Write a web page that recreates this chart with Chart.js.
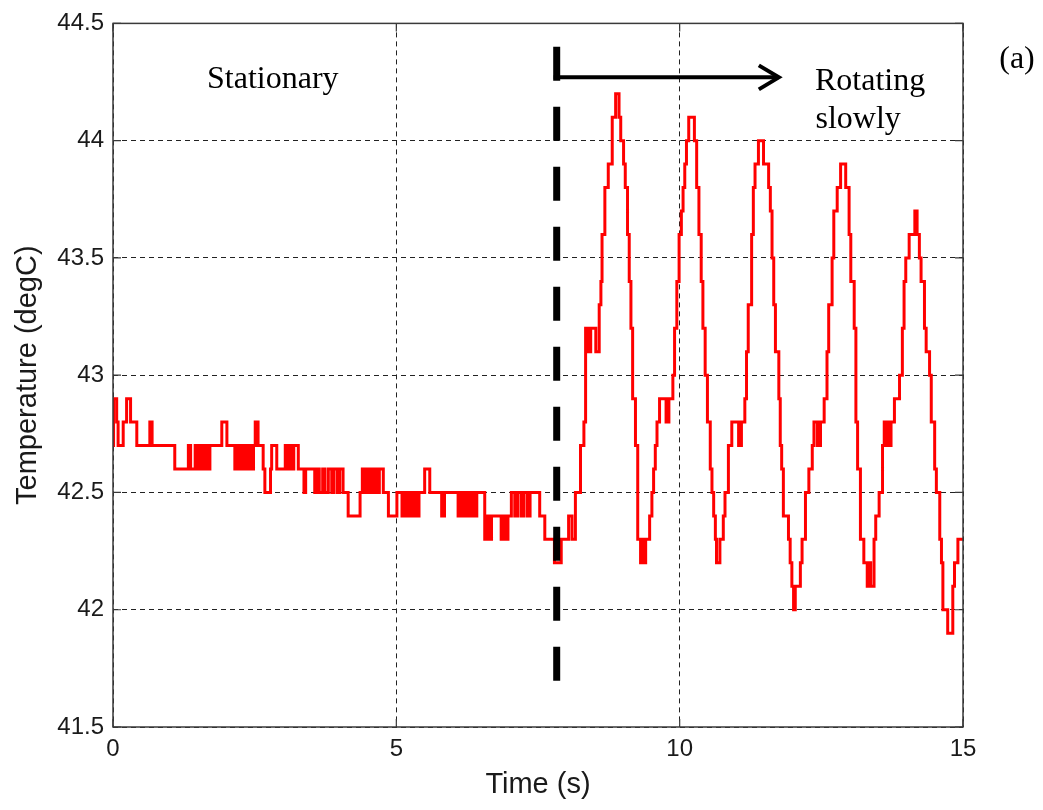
<!DOCTYPE html>
<html>
<head>
<meta charset="utf-8">
<script src="https://cdn.jsdelivr.net/npm/chart.js@4/dist/chart.umd.min.js"></script>
<style>
  html, body { margin: 0; padding: 0; background: #fff; }
  #wrap { width: 1043px; height: 810px; }
</style>
</head>
<body>
<div id="wrap"><canvas id="chart" width="1043" height="810"></canvas></div>
<script>
// sensor trace, one entry per step change (time in s, temperature in degC)
const times = [
  0, 0.01, 0.065, 0.09, 0.18, 0.24, 0.31, 0.42, 0.65, 0.69,
  1.09, 1.33, 1.37, 1.45, 1.5, 1.54, 1.57, 1.62, 1.66, 1.71,
  1.92, 2.01, 2.15, 2.18, 2.22, 2.26, 2.29, 2.33, 2.37, 2.41,
  2.44, 2.48, 2.51, 2.56, 2.65, 2.68, 2.78, 2.8, 2.89, 3.04,
  3.08, 3.11, 3.16, 3.19, 3.27, 3.37, 3.4, 3.56, 3.6, 3.64,
  3.7, 3.74, 3.8, 3.86, 3.9, 3.96, 4.0, 4.06, 4.15, 4.36,
  4.4, 4.45, 4.5, 4.55, 4.6, 4.65, 4.7, 4.77, 4.86, 5.01,
  5.1, 5.13, 5.18, 5.22, 5.27, 5.31, 5.36, 5.4, 5.5, 5.59,
  5.8, 5.85, 6.09, 6.13, 6.18, 6.22, 6.27, 6.32, 6.37, 6.42,
  6.56, 6.6, 6.63, 6.68, 6.85, 6.9, 6.93, 6.97, 7.03, 7.09,
  7.14, 7.2, 7.25, 7.31, 7.36, 7.53, 7.62, 7.79, 7.91, 8.04,
  8.1, 8.16, 8.25, 8.31, 8.34, 8.37, 8.39, 8.41, 8.43, 8.52,
  8.58, 8.61, 8.63, 8.68, 8.74, 8.81, 8.87, 8.93, 8.96, 9.01,
  9.04, 9.08, 9.11, 9.14, 9.17, 9.22, 9.26, 9.31, 9.34, 9.36,
  9.4, 9.47, 9.51, 9.54, 9.57, 9.6, 9.645, 9.76, 9.81, 9.88,
  9.91, 9.95, 9.99, 10.03, 10.06, 10.09, 10.12, 10.16, 10.26, 10.3,
  10.34, 10.38, 10.41, 10.45, 10.49, 10.54, 10.57, 10.6, 10.63, 10.65,
  10.71, 10.77, 10.8, 10.86, 10.92, 11.04, 11.09, 11.15, 11.18, 11.21,
  11.27, 11.3, 11.33, 11.39, 11.48, 11.57, 11.6, 11.63, 11.66, 11.69,
  11.75, 11.775, 11.8, 11.83, 11.92, 11.95, 11.98, 12.01, 12.04, 12.13,
  12.16, 12.22, 12.28, 12.34, 12.37, 12.43, 12.44, 12.47, 12.485, 12.55,
  12.6, 12.63, 12.69, 12.72, 12.78, 12.84, 12.93, 12.99, 13.02, 13.08,
  13.11, 13.14, 13.19, 13.25, 13.31, 13.34, 13.37, 13.43, 13.46, 13.52,
  13.58, 13.61, 13.64, 13.67, 13.7, 13.73, 13.79, 13.88, 13.93, 13.96,
  13.99, 14.05, 14.15, 14.19, 14.23, 14.26, 14.32, 14.35, 14.41, 14.44,
  14.5, 14.53, 14.59, 14.62, 14.645, 14.73, 14.82, 14.85, 14.91, 15
];
const temps = [
  42.7, 42.9, 42.8, 42.7, 42.8, 42.9, 42.8, 42.7, 42.8, 42.7,
  42.6, 42.7, 42.6, 42.7, 42.6, 42.7, 42.6, 42.7, 42.6, 42.7,
  42.8, 42.7, 42.6, 42.7, 42.6, 42.7, 42.6, 42.7, 42.6, 42.7,
  42.6, 42.7, 42.8, 42.7, 42.6, 42.5, 42.6, 42.7, 42.6, 42.7,
  42.6, 42.7, 42.6, 42.7, 42.6, 42.5, 42.6, 42.5, 42.6, 42.5,
  42.6, 42.5, 42.6, 42.5, 42.6, 42.5, 42.6, 42.5, 42.4, 42.5,
  42.6, 42.5, 42.6, 42.5, 42.6, 42.5, 42.6, 42.5, 42.4, 42.5,
  42.4, 42.5, 42.4, 42.5, 42.4, 42.5, 42.4, 42.5, 42.6, 42.5,
  42.4, 42.5, 42.4, 42.5, 42.4, 42.5, 42.4, 42.5, 42.4, 42.5,
  42.3, 42.4, 42.3, 42.4, 42.3, 42.4, 42.3, 42.4, 42.5, 42.4,
  42.5, 42.4, 42.5, 42.4, 42.5, 42.4, 42.3, 42.2, 42.3, 42.4,
  42.3, 42.5, 42.7, 42.8, 43.2, 43.1, 43.2, 43.1, 43.2, 43.1,
  43.3, 43.4, 43.6, 43.8, 43.9, 44.1, 44.2, 44.1, 44.0, 43.9,
  43.8, 43.6, 43.4, 43.2, 42.9, 42.7, 42.3, 42.2, 42.3, 42.2,
  42.3, 42.4, 42.5, 42.6, 42.7, 42.8, 42.9, 42.8, 42.9, 43.0,
  43.2, 43.4, 43.6, 43.7, 43.8, 43.9, 44.0, 44.1, 44.0, 43.8,
  43.6, 43.4, 43.2, 43.0, 42.8, 42.6, 42.5, 42.4, 42.3, 42.2,
  42.3, 42.4, 42.5, 42.7, 42.8, 42.7, 42.8, 42.9, 43.1, 43.3,
  43.6, 43.8, 43.9, 44.0, 43.9, 43.8, 43.7, 43.5, 43.3, 43.1,
  42.9, 42.7, 42.6, 42.4, 42.3, 42.2, 42.1, 42.0, 42.1, 42.2,
  42.3, 42.5, 42.6, 42.7, 42.8, 42.7, 42.8, 42.7, 42.8, 42.9,
  43.1, 43.3, 43.5, 43.7, 43.8, 43.9, 43.8, 43.6, 43.4, 43.2,
  42.8, 42.6, 42.3, 42.2, 42.1, 42.2, 42.1, 42.3, 42.4, 42.5,
  42.7, 42.8, 42.7, 42.8, 42.7, 42.8, 42.9, 43.0, 43.2, 43.4,
  43.5, 43.6, 43.7, 43.6, 43.5, 43.4, 43.2, 43.1, 43.0, 42.8,
  42.6, 42.5, 42.3, 42.2, 42.0, 41.9, 42.1, 42.2, 42.3, 42.3
];

const xTicks = [0, 5, 10, 15];
const xTickLabels = ["0", "5", "10", "15"];
const yTicks = [41.5, 42, 42.5, 43, 43.5, 44, 44.5];
const yTickLabels = ["41.5", "42", "42.5", "43", "43.5", "44", "44.5"];

// annotation positions in data units
const switchTime = 7.83;     // dashed marker where rotation starts
const markerTop = 44.4;
const markerBottom = 41.68;
const arrowLevel = 44.27;
const arrowEnd = 11.75;

const tickFont = { family: "'Liberation Sans', Arial, sans-serif", size: 24 };
const titleFont = { family: "'Liberation Sans', Arial, sans-serif", size: 29 };
const serif = "'Liberation Serif', 'Times New Roman', serif";

const annotations = {
  id: "annotations",
  afterDatasetsDraw(chart) {
    const { ctx, chartArea: a, scales: { x, y } } = chart;
    ctx.save();

    // plot box
    ctx.strokeStyle = "#3a3a3a";
    ctx.lineWidth = 1.5;
    ctx.setLineDash([]);
    ctx.strokeRect(a.left, a.top, a.right - a.left, a.bottom - a.top);

    // inward tick marks (matlab style)
    ctx.lineWidth = 1.2;
    yTicks.forEach((v) => {
      const py = y.getPixelForValue(v);
      ctx.beginPath();
      ctx.moveTo(a.left, py); ctx.lineTo(a.left + 8, py);
      ctx.moveTo(a.right, py); ctx.lineTo(a.right - 8, py);
      ctx.stroke();
    });
    xTicks.forEach((v) => {
      const px = x.getPixelForValue(v);
      ctx.beginPath();
      ctx.moveTo(px, a.bottom); ctx.lineTo(px, a.bottom - 8);
      ctx.moveTo(px, a.top); ctx.lineTo(px, a.top + 8);
      ctx.stroke();
    });

    // thick dashed marker
    const sx = x.getPixelForValue(switchTime);
    const ay = y.getPixelForValue(arrowLevel);
    ctx.strokeStyle = "#000";
    ctx.lineWidth = 7;
    ctx.setLineDash([34, 26]);
    ctx.beginPath();
    ctx.moveTo(sx, y.getPixelForValue(markerTop));
    ctx.lineTo(sx, y.getPixelForValue(markerBottom));
    ctx.stroke();

    // arrow
    const ex = x.getPixelForValue(arrowEnd);
    ctx.setLineDash([]);
    ctx.lineWidth = 4;
    ctx.beginPath();
    ctx.moveTo(sx - 3, ay);
    ctx.lineTo(ex, ay);
    ctx.stroke();
    ctx.lineJoin = "miter";
    ctx.beginPath();
    ctx.moveTo(ex - 20, ay - 12);
    ctx.lineTo(ex, ay);
    ctx.lineTo(ex - 20, ay + 12);
    ctx.stroke();

    // labels
    ctx.fillStyle = "#000";
    ctx.font = "32px " + serif;
    ctx.textAlign = "center";
    ctx.textBaseline = "middle";
    ctx.fillText("Stationary", x.getPixelForValue(2.82), y.getPixelForValue(44.26));
    ctx.fillText("Rotating", x.getPixelForValue(13.36), y.getPixelForValue(44.25));
    ctx.fillText("slowly", x.getPixelForValue(13.15), y.getPixelForValue(44.09));
    ctx.fillText("(a)", a.right + 54, a.top + 36);
    ctx.restore();
  }
};

new Chart(document.getElementById("chart"), {
  type: "line",
  data: {
    datasets: [
      {
        label: "Temperature",
        data: times.map((t, i) => ({ x: t, y: temps[i] })),
        borderColor: "#ff0000",
        borderWidth: 3,
        pointRadius: 0,
        stepped: true,
        fill: false
      }
    ]
  },
  options: {
    responsive: false,
    animation: false,
    layout: { padding: { left: 0, right: 80, top: 22, bottom: 0 } },
    plugins: { legend: { display: false }, tooltip: { enabled: false } },
    scales: {
      x: {
        type: "linear",
        min: 0,
        max: 15,
        afterBuildTicks: (scale) => { scale.ticks = xTicks.map((v) => ({ value: v })); },
        afterFit: (scale) => { scale.height = 83; },
        ticks: {
          font: tickFont,
          color: "#1a1a1a",
          padding: 8,
          maxRotation: 0,
          callback: (v) => xTickLabels[xTicks.indexOf(v)]
        },
        grid: { color: "#222", lineWidth: 1, drawTicks: false },
        border: { display: false, dash: [5, 4] },
        title: { display: true, text: "Time (s)", font: titleFont, color: "#1a1a1a", padding: { top: 0, bottom: 8 } }
      },
      y: {
        type: "linear",
        min: 41.5,
        max: 44.5,
        afterBuildTicks: (scale) => { scale.ticks = yTicks.map((v) => ({ value: v })); },
        afterFit: (scale) => { scale.width = 113; },
        ticks: {
          font: tickFont,
          color: "#1a1a1a",
          padding: 9,
          callback: (v) => yTickLabels[yTicks.indexOf(v)]
        },
        grid: { color: "#222", lineWidth: 1, drawTicks: false },
        border: { display: false, dash: [5, 4] },
        title: { display: true, text: "Temperature (degC)", font: titleFont, color: "#1a1a1a", padding: { top: 11, bottom: 0 } }
      }
    }
  },
  plugins: [annotations]
});
</script>
</body>
</html>
